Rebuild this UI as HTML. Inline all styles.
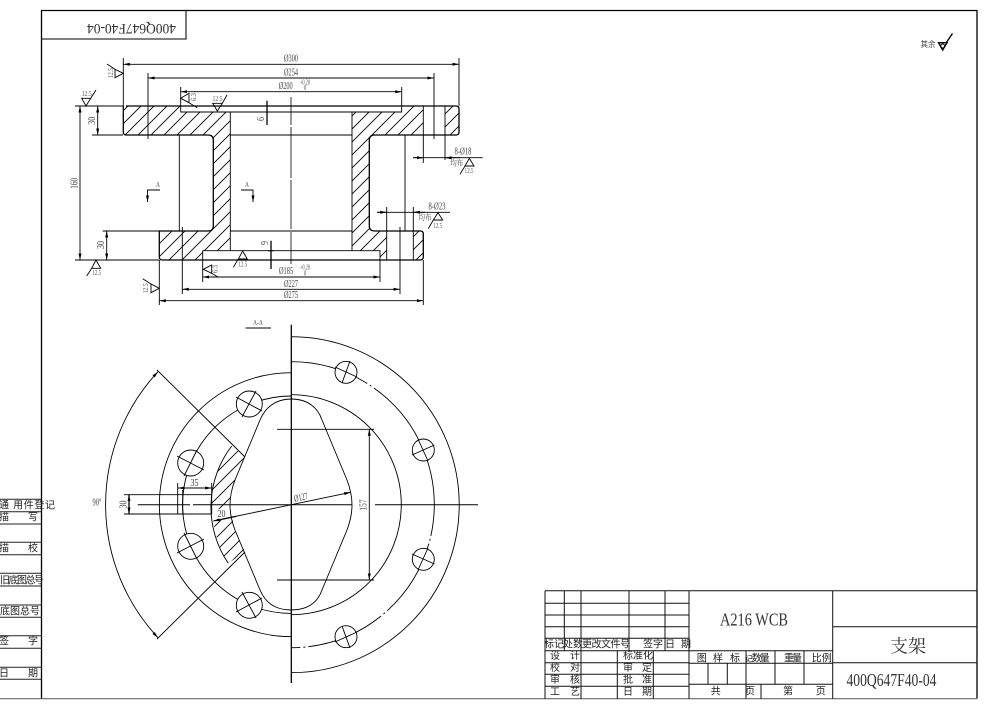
<!DOCTYPE html>
<html><head><meta charset="utf-8">
<style>
html,body{margin:0;padding:0;background:#fff}
svg{display:block}
.l{fill:none;stroke:#000;stroke-width:.9}
.t{fill:none;stroke:#000;stroke-width:1.3}
.g{fill:none;stroke:#555;stroke-width:.8}
.d{font-family:"Liberation Serif","Noto Serif CJK SC",serif;font-size:10px;fill:#444;text-anchor:middle;dominant-baseline:central}
.s{font-family:"Liberation Serif",serif;font-size:7px;fill:#555;text-anchor:middle;dominant-baseline:central}
.c{font-family:"Liberation Sans","Noto Sans CJK SC",sans-serif;font-size:10px;fill:#222;text-anchor:middle;dominant-baseline:central}
.m{font-family:"Liberation Serif",serif;fill:#333;text-anchor:middle;dominant-baseline:central}
</style></head><body>
<svg width="984" height="709" viewBox="0 0 984 709" xmlns="http://www.w3.org/2000/svg">
<defs>
<pattern id="h" patternUnits="userSpaceOnUse" width="13" height="13"><path d="M-1,14 L14,-1 M-1,1 L1,-1 M12,14 L14,12" stroke="#000" stroke-width=".85"/></pattern>
<marker id="a" markerWidth="7" markerHeight="5" refX="6.5" refY="2.5" orient="auto-start-reverse" markerUnits="userSpaceOnUse"><path d="M0,1 L6.5,2.5 L0,4 Z" fill="#000"/></marker>
</defs>
<rect width="984" height="709" fill="#fff"/>

<!-- frame -->
<path class="t" d="M41.5,699 V10.5 H977 V698.5"/>
<path d="M0,698.7 H977" stroke="#666" stroke-width="1.2"/>
<path class="t" d="M41.5,39 H186 V10.5" style="stroke:#333"/>
<text class="m" font-size="15" transform="rotate(180 131.5 28)" x="131.5" y="28" textLength="89" lengthAdjust="spacingAndGlyphs">400Q647F40-04</text>

<!-- finish mark -->
<text class="d" x="928" y="44.5" style="font-family:'Noto Sans CJK SC',sans-serif;font-size:8px" textLength="15" lengthAdjust="spacingAndGlyphs">其余</text>
<path d="M938.5,42.7 H947 L942.7,50 Z M946,43 L952.5,33.5" fill="none" stroke="#000" stroke-width="1.4"/>
<circle cx="942.7" cy="46" r="2" fill="none" stroke="#000" stroke-width="1"/>

<!-- section hatching -->
<g fill="url(#h)" stroke="none">
<path d="M123.3,106 H180.7 V112 H230.3 V250.7 H202.7 V260 H159.3 V231 H208 Q213.3,231 213.3,226 V140 Q213.3,135 208,135 H123.3 Z"/>
<path d="M352,112 H401.7 V106 H423.3 V135 H374.7 Q369.3,135 369.3,140 V226 Q369.3,231 375,231 H386.7 V260 H380 V250.7 H352 Z"/>
<path d="M445,106 H459 V135 H445 Z"/>
<path d="M413.3,231 H423.3 V260 H413.3 Z"/>
</g>

<!-- section outline -->
<path class="t" d="M126,106 H456 Q459,106 459,109 V132 Q459,135 456,135 H374.7 Q369.3,135 369.3,140 V226 Q369.3,231 375,231 H420.3 Q423.3,231 423.3,234 V257 Q423.3,260 420.3,260 H162.3 Q159.3,260 159.3,257 V231 H208 Q213.3,231 213.3,226 V140 Q213.3,135 208,135 H126 Q123.3,135 123.3,132 V106"/>
<path class="l" d="M180.7,106 V112 H401.7 V106 M230.3,112 V250.7 M352,112 V250.7 M202.7,260 V250.7 H380 V260 M230.3,135 H352 M230.3,231 H352 M179.3,135 V231 M405,135 V231 M423.3,106 V135 M445,106 V135 M386.7,231 V260 M413.3,231 V260"/>
<path class="l" d="M291,97 V125 M291,127 V178 M291,180 V229 M291,232 V264" style="stroke-width:.8"/>

<!-- dimensions top -->
<path class="l" d="M123.3,58 V106 M459,58 V106 M148,73 V139 M434,73 V139 M180.7,87 V106 M401.7,87 V106 M75,106 H123 M92,135 H123 M102.7,231 H159 M75,260 H159 M159.3,260 V305 M423.3,260 V305 M182.3,227 V294 M400,227 V294 M202.7,260 V282 M380,260 V282 M423.3,135 V163 M445,135 V160 M386.7,207 V231 M413.3,207 V231"/>
<path class="l" marker-start="url(#a)" marker-end="url(#a)" d="M123.3,64.3 H459"/>
<path class="l" marker-start="url(#a)" marker-end="url(#a)" d="M148,78 H434"/>
<path class="l" marker-start="url(#a)" marker-end="url(#a)" d="M180.7,91.7 H401.7"/>
<path class="l" marker-start="url(#a)" marker-end="url(#a)" d="M202.7,277 H380"/>
<path class="l" marker-start="url(#a)" marker-end="url(#a)" d="M182.3,289.3 H400"/>
<path class="l" marker-start="url(#a)" marker-end="url(#a)" d="M159.3,300.7 H423.3"/>
<path class="l" marker-start="url(#a)" marker-end="url(#a)" d="M97.7,106 V135"/>
<path class="l" marker-start="url(#a)" marker-end="url(#a)" d="M80,106 V260"/>
<path class="l" marker-start="url(#a)" marker-end="url(#a)" d="M106.7,231 V260"/>
<path class="t" d="M267,100.7 V125 M271,240.7 V269"/>
<path class="t" d="M264,106 H270 M264,112 H270 M268,250.7 H274 M268,260 H274" style="stroke-width:1"/>
<path class="l" d="M413,157.7 H482.7"/><path class="l" marker-end="url(#a)" d="M413,157.7 H423.3"/>
<path class="l" marker-end="url(#a)" d="M460,157.7 H445"/>
<path class="l" d="M377,212.3 H450"/><path class="l" marker-end="url(#a)" d="M377,212.3 H386.7"/>
<path class="l" marker-end="url(#a)" d="M425,212.3 H413.3"/>

<!-- dimension text -->
<text class="d" x="291" y="59" textLength="14" lengthAdjust="spacingAndGlyphs">Ø300</text>
<text class="d" x="291" y="73" textLength="14" lengthAdjust="spacingAndGlyphs">Ø254</text>
<text class="d" x="285.7" y="86.7" textLength="14" lengthAdjust="spacingAndGlyphs">Ø200</text>
<text class="s" x="305" y="82.7" textLength="10" lengthAdjust="spacingAndGlyphs">+0.28</text>
<text class="s" x="305" y="88" textLength="2.5" lengthAdjust="spacingAndGlyphs">0</text>
<text class="d" x="286" y="271.7" textLength="14" lengthAdjust="spacingAndGlyphs">Ø185</text>
<text class="s" x="305" y="267.7" textLength="10" lengthAdjust="spacingAndGlyphs">+0.28</text>
<text class="s" x="305" y="273.5" textLength="2.5" lengthAdjust="spacingAndGlyphs">0</text>
<text class="d" x="291" y="284.3" textLength="14" lengthAdjust="spacingAndGlyphs">Ø227</text>
<text class="d" x="291" y="295.3" textLength="14" lengthAdjust="spacingAndGlyphs">Ø275</text>
<text class="d" transform="rotate(-90 261.7 119)" x="261.7" y="119" textLength="4" lengthAdjust="spacingAndGlyphs">6</text>
<text class="d" transform="rotate(-90 265.7 243)" x="265.7" y="243" textLength="4" lengthAdjust="spacingAndGlyphs">9</text>
<text class="d" transform="rotate(-90 92.3 120.7)" x="92.3" y="120.7" textLength="8" lengthAdjust="spacingAndGlyphs">30</text>
<text class="d" transform="rotate(-90 75 183.3)" x="75" y="183.3" textLength="11" lengthAdjust="spacingAndGlyphs">160</text>
<text class="d" transform="rotate(-90 101.7 245)" x="101.7" y="245" textLength="8" lengthAdjust="spacingAndGlyphs">30</text>
<text class="d" x="463" y="152" textLength="17" lengthAdjust="spacingAndGlyphs">8-Ø18</text>
<text class="d" x="437" y="207" textLength="17" lengthAdjust="spacingAndGlyphs">8-Ø23</text>
<text class="d" x="456.7" y="163" style="font-family:'Noto Serif CJK SC',serif;font-size:8px" textLength="13" lengthAdjust="spacingAndGlyphs">均布</text>
<text class="d" x="425" y="217.7" style="font-family:'Noto Serif CJK SC',serif;font-size:8px" textLength="13" lengthAdjust="spacingAndGlyphs">均布</text>

<!-- section arrows -->
<path class="l" marker-end="url(#a)" d="M160,190 H147.5 V202"/>
<path class="l" marker-end="url(#a)" d="M241,190 H253 V202"/>
<text class="s" x="158" y="185" textLength="4" lengthAdjust="spacingAndGlyphs">A</text>
<text class="s" x="247" y="185" textLength="4" lengthAdjust="spacingAndGlyphs">A</text>

<!-- roughness -->
<path class="l" d="M115,69.3 V77.7 L123.3,73.3 Z M115,69.3 L107,64"/>
<text class="s" transform="rotate(-90 111 73)" x="111" y="73" textLength="10" lengthAdjust="spacingAndGlyphs">12.5</text>
<path class="l" d="M81.7,98.3 H90.7 L86,106 Z M90.7,98.3 L96,90"/>
<text class="s" x="86.7" y="94" textLength="10" lengthAdjust="spacingAndGlyphs">12.5</text>
<path class="l" d="M180.7,98.3 L189,93.3 V102.7 Z M189,102.7 L197.3,107.7"/>
<text class="s" transform="rotate(-90 194 97)" x="194" y="97" textLength="8" lengthAdjust="spacingAndGlyphs">6.3</text>
<path class="l" d="M212.7,103.3 H222.3 L217.3,111 Z M222.3,103.3 L227,95"/>
<text class="s" x="217.5" y="99" textLength="10" lengthAdjust="spacingAndGlyphs">12.5</text>
<path class="l" d="M465,166 H474 L469.3,158.3 Z M465,166 L460,174.3"/>
<text class="s" x="469" y="171" textLength="9" lengthAdjust="spacingAndGlyphs">12.5</text>
<path class="l" d="M433.3,220 H442.7 L438,212.7 Z M433.3,220 L428.3,228.7"/>
<text class="s" x="437.7" y="226" textLength="9" lengthAdjust="spacingAndGlyphs">12.5</text>
<path class="l" d="M91.7,268.3 H100.7 L96,260 Z M91.7,268.3 L86.7,276"/>
<text class="s" x="96.7" y="273" textLength="9" lengthAdjust="spacingAndGlyphs">12.5</text>
<path class="l" d="M238.3,259 H247.3 L242.7,251 Z M238.3,259 L233.3,267.3"/>
<text class="s" x="242.7" y="264.3" textLength="9" lengthAdjust="spacingAndGlyphs">12.5</text>
<path class="l" d="M203.3,269.3 L211.7,265 V273.3 Z M211.7,273.3 L218.3,277.3"/>
<text class="s" transform="rotate(-90 215.7 269)" x="215.7" y="269" textLength="8" lengthAdjust="spacingAndGlyphs">6.3</text>
<path class="l" d="M151,284 V292.7 L159.3,288.3 Z M151,284 L142.7,278.7"/>
<text class="s" transform="rotate(-90 146 288.3)" x="146" y="288.3" textLength="10" lengthAdjust="spacingAndGlyphs">12.5</text>

<!-- A-A view -->
<text class="s" x="258" y="323" textLength="10" lengthAdjust="spacingAndGlyphs">A-A</text>
<path class="l" d="M245.5,328 H271"/>

<!-- hatch of A-A -->
<g fill="url(#h)">
<path d="M231.7,446 L245,457 L235,480 Q230,493 230,505 L211,512 A100,100 0 0 1 231.7,446 Z"/>
<path d="M213.5,521 L232,517 L235,530 L245,552 L228.3,563.3 A100,100 0 0 1 213.5,521 Z"/>
</g>

<!-- circles -->
<path class="l" d="M291.3,336.7 A168,168 0 0 1 291.3,672.7"/>
<path class="l" stroke-dasharray="80 3 2 3" d="M291.3,361.7 A143,143 0 0 1 291.3,647.7"/>
<path class="l" d="M291.3,394.7 A110,110 0 0 1 291.3,614.7"/>
<path class="l" d="M291.3,372.7 A132,132 0 0 0 291.3,636.7"/>
<path class="l" d="M291.3,396 A108.7,108.7 0 0 0 291.3,613.4"/>
<path class="l" d="M231.7,446 A100,100 0 0 0 228.3,563.3"/>
<path class="l" d="M291.3,399 C275,399 265,408 260,420 L235,480 Q230,493 230,505 Q230,517 235,530 L260,590 C265,602 275,610 291.3,610 C308,610 318,602 322,590 L347,530 Q352,517 352,505 Q352,493 347,480 L322,420 C318,408 308,399 291.3,399 Z"/>

<!-- holes -->
<g fill="#fff" stroke="#000" stroke-width=".9">
<circle cx="249.3" cy="404" r="13"/><circle cx="190.7" cy="463" r="13"/><circle cx="190.7" cy="546.3" r="13"/><circle cx="249.3" cy="605.3" r="13"/>
<circle cx="346" cy="372.3" r="11"/><circle cx="423.3" cy="450" r="11"/><circle cx="423.3" cy="559.3" r="11"/><circle cx="346" cy="636.7" r="11"/>
</g>
<path class="l" d="M236,397 L262,411 M256,391 L242,417 M177,456 L204,470 M197,450 L184,476 M177,553 L204,539 M184,533 L197,559 M236,612 L262,598 M242,592 L256,618"/>
<path class="l" d="M335,367 L357,377 M350,361 L342,383 M412,455 L434.5,445 M418,439 L428,461 M412,554 L434.5,564 M418,570 L428,548 M335,642 L357,632 M342,626 L350,648"/>

<!-- center lines -->
<path d="M291.3,324.7 V683" stroke="#000" stroke-width="1.3" fill="none"/>
<path class="l" d="M137.7,504.7 H190 M193,504.7 H352 M375,504.7 H478" style="stroke-width:1"/>

<!-- 90 deg -->
<path class="l" d="M157,370 L245,457 M157,639 L245,552"/>
<path class="l" marker-start="url(#a)" marker-end="url(#a)" d="M158,371.7 A195,195 0 0 0 158,637.7"/>
<text class="d" x="97" y="503" textLength="9" lengthAdjust="spacingAndGlyphs">90°</text>

<!-- slot -->
<path class="l" d="M124,494.7 H211.7 M124,514 H211.7 M177.7,483 V514 M182.7,490 V514"/>
<path class="l" d="M211.7,483 V514"/>
<path class="l" marker-start="url(#a)" marker-end="url(#a)" d="M178,488 H211.7"/>
<path class="t" marker-start="url(#a)" marker-end="url(#a)" d="M129,494.7 V514"/>
<text class="d" x="194.5" y="483.5" textLength="8" lengthAdjust="spacingAndGlyphs">35</text>
<text class="d" transform="rotate(-90 124 504.5)" x="124" y="504.5" textLength="8" lengthAdjust="spacingAndGlyphs">30</text>
<text class="d" x="221.5" y="514.5" textLength="8" lengthAdjust="spacingAndGlyphs">20</text>

<!-- 157 -->
<path class="l" d="M277,429.3 H374 M277,580 H374"/>
<path class="l" marker-start="url(#a)" marker-end="url(#a)" d="M369.3,429.3 V580"/>
<text class="d" transform="rotate(-90 364 505)" x="364" y="505" textLength="11" lengthAdjust="spacingAndGlyphs">157</text>
<path class="l" marker-start="url(#a)" marker-end="url(#a)" d="M213.3,521 L350.7,492.3"/>
<path class="t" d="M222,519.2 L236,516.4"/>
<text class="d" transform="rotate(-12 301 498)" x="301" y="498" textLength="14" lengthAdjust="spacingAndGlyphs">Ø127</text>

<!-- left stamp table -->
<path d="M0,499.3 H41.5 M0,511.7 H41.5 M0,524 H41.5 M0,542.3 H41.5 M0,554.7 H41.5 M0,573.3 H41.5 M0,586 H41.5 M0,605 H41.5 M0,617.3 H41.5 M0,635.7 H41.5 M0,648.3 H41.5 M0,667.3 H41.5 M0,679.3 H41.5" stroke="#222" stroke-width="1"/>
<text class="c" x="27" y="506" textLength="56" lengthAdjust="spacing">通 用件登记</text>
<text class="c" x="4" y="518">描</text><text class="c" x="33" y="518">写</text>
<text class="c" x="4" y="549">描</text><text class="c" x="33" y="549">校</text>
<text class="c" x="22" y="581" textLength="44">旧底图总号</text>
<text class="c" x="20" y="612" textLength="40">底图总号</text>
<text class="c" x="4" y="642">签</text><text class="c" x="33" y="642">字</text>
<text class="c" x="4" y="674">日</text><text class="c" x="33" y="674">期</text>

<!-- title block -->
<path d="M545,590.7 H977 M545,603.3 H689 M545,615 H689 M545,626.7 H689 M545,638.3 H689 M545,650.7 H832.7 M545,662.7 H689 M545,674.3 H689 M545,686.3 H689 M545,590.7 V698.7 M564.3,590.7 V650.7 M581,590.7 V698.7 M629,590.7 V650.7 M665,590.7 V650.7 M689,590.7 V698.7 M617.3,650.7 V698.7 M653.3,650.7 V698.7 M832.7,590.7 V698.7 M832.7,626.7 H977 M832.7,662.7 H977 M689,663.3 H832.7 M689,684.3 H832.7 M708,663.3 V684.3 M727.3,663.3 V684.3 M746,650.7 V698.7 M775,650.7 V684.3 M804,650.7 V684.3 M761,684.3 V698.7" stroke="#111" stroke-width="1" fill="none"/>
<text class="m" font-size="18" x="754" y="619.5" textLength="68" lengthAdjust="spacingAndGlyphs">A216 WCB</text>
<text class="m" font-size="18" x="908" y="645.5" style="font-family:'Noto Serif CJK SC',serif">支架</text>
<text class="m" font-size="18" x="891.5" y="680" textLength="90" lengthAdjust="spacingAndGlyphs">400Q647F40-04</text>
<text class="c" x="554" y="645" textLength="20">标记</text>
<text class="c" x="573" y="645" textLength="20">处数</text>
<text class="c" x="606" y="645" textLength="48">更改文件号</text>
<text class="c" x="648" y="645">签</text><text class="c" x="658" y="645">字</text>
<text class="c" x="670" y="645">日</text><text class="c" x="686" y="645">期</text>
<text class="c" x="555" y="656.7">设</text><text class="c" x="575" y="656.7">计</text>
<text class="c" x="555" y="668.5">校</text><text class="c" x="575" y="668.5">对</text>
<text class="c" x="555" y="680.5">审</text><text class="c" x="575" y="680.5">核</text>
<text class="c" x="555" y="692.5">工</text><text class="c" x="575" y="692.5">艺</text>
<text class="c" x="638" y="656.7" textLength="30">标准化</text>
<text class="c" x="628" y="668.5">审</text><text class="c" x="647" y="668.5">定</text>
<text class="c" x="628" y="680.5">批</text><text class="c" x="647" y="680.5">准</text>
<text class="c" x="628" y="692.5">日</text><text class="c" x="647" y="692.5">期</text>
<text class="c" x="701.7" y="659">图</text><text class="c" x="718" y="659">样</text><text class="c" x="735" y="659">标</text><text class="c" x="749" y="659" style="font-size:8px">记</text>
<text class="c" x="760.7" y="659" textLength="18">数量</text>
<text class="c" x="793" y="659" textLength="18">重量</text>
<text class="c" x="821.7" y="659" textLength="20">比例</text>
<text class="c" x="715.7" y="692">共</text><text class="c" x="750" y="692">页</text><text class="c" x="788" y="692">第</text><text class="c" x="820.7" y="692">页</text>
</svg>
</body></html>
